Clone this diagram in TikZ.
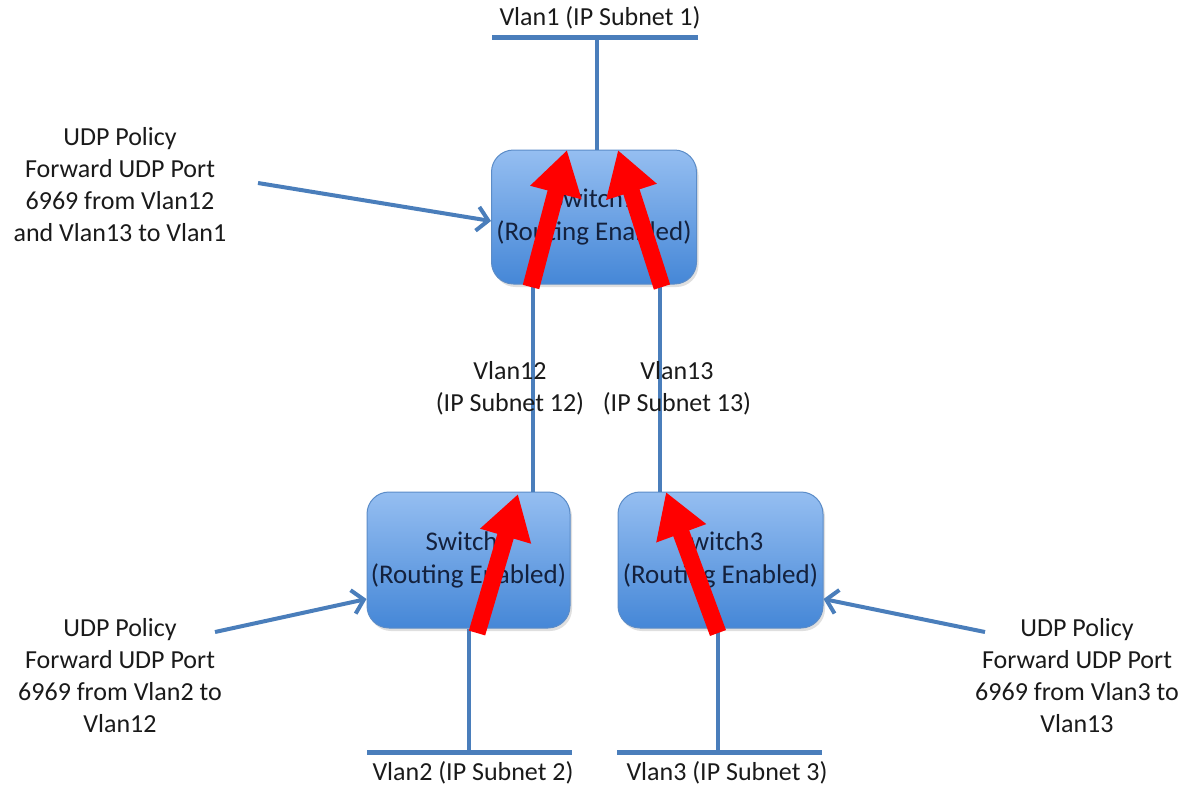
\documentclass[tikz,border=0pt]{standalone}
\usepackage{fontspec}
\setmainfont{Carlito}
\usetikzlibrary{arrows.meta,shadows}
\definecolor{lineblue}{HTML}{4A7EBB}
\definecolor{boxtop}{HTML}{95BEF1}
\definecolor{boxbot}{HTML}{4587D7}
\definecolor{boxedge}{HTML}{5B8CC8}
\definecolor{txt}{HTML}{1A1A1A}
\definecolor{boxtxt}{HTML}{14213D}
\definecolor{redarrow}{HTML}{FF0000}
\tikzset{
  switchbox/.style={draw=boxedge, line width=1pt, rounded corners=22pt,
    top color=boxtop, bottom color=boxbot, align=center, text=boxtxt,
    inner sep=0pt, font=\fontsize{27}{33}\selectfont,
    drop shadow={opacity=0.25, shadow xshift=2pt, shadow yshift=-3pt}},
  wire/.style={draw=lineblue, line width=4pt},
  bar/.style={draw=lineblue, line width=5pt},
  pointer/.style={draw=lineblue, line width=4pt, -{Straight Barb[length=11pt,width=24pt]}},
  lbl/.style={align=center, text=txt, inner sep=0pt, font=\fontsize{26}{32}\selectfont},
  flow/.style={draw=redarrow, line width=17pt, -{Triangle[length=44pt,width=50pt]}}
}
\begin{document}
\begin{tikzpicture}[x=1pt,y=-1pt]
\useasboundingbox (0,0) rectangle (1190,788);
% switches
\node[switchbox, minimum width=205pt, minimum height=134pt] (s1) at (594,217) {Switch1\\(Routing Enabled)};
\node[switchbox, minimum width=203pt, minimum height=136pt] (s2) at (468.5,560) {Switch2\\(Routing Enabled)};
\node[switchbox, minimum width=205pt, minimum height=136pt] (s3) at (720.5,560) {Switch3\\(Routing Enabled)};
% vlan bars
\coordinate (v1l) at (492,37); \coordinate (v1r) at (698,37);
\coordinate (v2l) at (367,752); \coordinate (v2r) at (572,752);
\coordinate (v3l) at (617,752); \coordinate (v3r) at (822,752);
\draw[bar] (v1l) -- (v1r);
\draw[bar] (v2l) -- (v2r);
\draw[bar] (v3l) -- (v3r);
\node[lbl] (v1t) at (600,18) {Vlan1 (IP Subnet 1)};
\node[lbl] (v2t) at (473,773) {Vlan2 (IP Subnet 2)};
\node[lbl] (v3t) at (727,773) {Vlan3 (IP Subnet 3)};
% vertical wires
\coordinate (x1) at (597,0);
\coordinate (x12) at (533,0);
\coordinate (x13) at (660,0);
\coordinate (x2) at (469,0);
\coordinate (x3) at (718,0);
\draw[wire] (v1l -| x1) -- (s1.north -| x1);
\draw[wire] (s1.south -| x12) -- (s2.north -| x12);
\draw[wire] (s1.south -| x13) -- (s3.north -| x13);
\draw[wire] (s2.south -| x2) -- (v2l -| x2);
\draw[wire] (s3.south -| x3) -- (v3l -| x3);
% vlan12/13 labels
\node[lbl] (l12) at (510,388) {Vlan12\\(IP Subnet 12)};
\node[lbl] (l13) at (677,388) {Vlan13\\(IP Subnet 13)};
% policy texts
\node[lbl] (p1) at (120,185) {UDP Policy\\Forward UDP Port\\6969 from Vlan12\\and Vlan13 to Vlan1};
\node[lbl] (p2) at (120,676) {UDP Policy\\Forward UDP Port\\6969 from Vlan2 to\\Vlan12};
\node[lbl] (p3) at (1077,676) {UDP Policy\\Forward UDP Port\\6969 from Vlan3 to\\Vlan13};
\coordinate (p1s) at (258,183);
\coordinate (p2s) at (215,632);
\coordinate (p3s) at (985,632);
\draw[pointer] (p1s) -- (s1.west |- 0,221);
\draw[pointer] (p2s) -- (s2.west |- 0,599);
\draw[pointer] (p3s) -- (s3.east |- 0,599);
% red flow arrows
\draw[flow] (531,287) -- (567,150);
\draw[flow] (662,287) -- (618,150);
\draw[flow] (477,633) -- (518,494);
\draw[flow] (718,633) -- (666,492);
\end{tikzpicture}
\end{document}
